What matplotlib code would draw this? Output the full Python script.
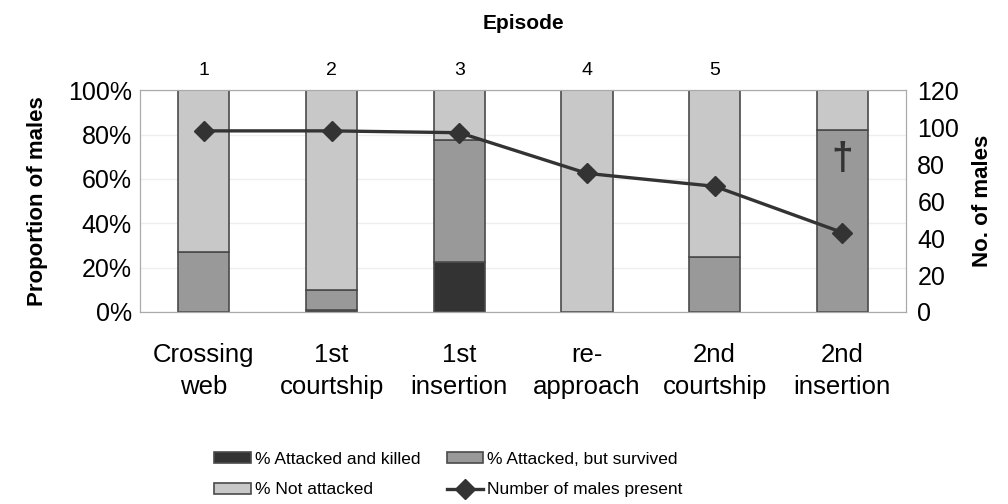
import matplotlib.pyplot as plt
import numpy as np

plt.rcParams['font.family'] = ['Liberation Sans', 'DejaVu Sans']

# Episode categories and stacked proportions (%)
categories = ['Crossing\nweb', '1st\ncourtship', '1st\ninsertion',
              're-\napproach', '2nd\ncourtship', '2nd\ninsertion']
episode_labels = ['1', '2', '3', '4', '5', '']
killed = [0, 1, 22.5, 0, 0, 0]
survived = [27, 9, 55, 0, 25, 82]
not_attacked = [73, 90, 22.5, 100, 75, 18]
males_present = [98, 98, 97, 75, 68, 43]

x = np.arange(len(categories))
width = 0.4
edge = '#4a4a4a'

fig, ax = plt.subplots(figsize=(10.08, 5.04), dpi=100)
fig.subplots_adjust(left=0.139, right=0.899, bottom=0.381, top=0.821)

b1 = ax.bar(x, killed, width, color='#333333', edgecolor=edge, linewidth=1.2,
            label='% Attacked and killed', zorder=2)
b2 = ax.bar(x, survived, width, bottom=killed, color='#999999', edgecolor=edge,
            linewidth=1.2, label='% Attacked, but survived', zorder=2)
base = np.array(killed) + np.array(survived)
b3 = ax.bar(x, not_attacked, width, bottom=base, color='#c8c8c8', edgecolor=edge,
            linewidth=1.2, label='% Not attacked', zorder=2)

ax.set_xlim(-0.5, len(categories) - 0.5)
ax.set_ylim(0, 100)
ax.set_yticks(range(0, 101, 20))
ax.set_yticklabels([f'{v}%' for v in range(0, 101, 20)], fontsize=18)
ax.set_xticks(x)
ax.set_xticklabels(categories, fontsize=18.5, linespacing=1.45)
ax.tick_params(axis='x', length=0, pad=22)
ax.tick_params(axis='y', length=0, pad=6)
ax.set_ylabel('Proportion of males', fontsize=16, fontweight='bold', labelpad=14)
ax.grid(axis='y', color='#eeeeee', linewidth=1, zorder=0)
for s in ax.spines.values():
    s.set_color('#aaaaaa')

# dagger on the last bar
ax.text(x[-1], 69, '\u2020', ha='center', va='center', fontsize=28,
        fontweight='bold', color='#333333', zorder=4)

# Right axis: number of males
ax2 = ax.twinx()
ln, = ax2.plot(x, males_present, color='#333333', linewidth=2.4, marker='D',
               markersize=10, label='Number of males present', zorder=5)
ax2.set_ylim(0, 120)
ax2.set_yticks(range(0, 121, 20))
ax2.tick_params(axis='y', labelsize=18, length=0, pad=8)
ax2.set_ylabel('No. of males', fontsize=16, fontweight='bold', labelpad=9)
for s in ax2.spines.values():
    s.set_color('#aaaaaa')

# Top axis: episode numbers
ax3 = ax.secondary_xaxis('top')
ax3.set_xticks(x)
ax3.set_xticklabels(episode_labels, fontsize=14)
ax3.tick_params(length=0, pad=8)
ax3.spines['top'].set_visible(False)
ax3.set_xlabel('Episode', fontsize=15, fontweight='bold', labelpad=24)

fig.legend(handles=[b1, b3, b2, ln], ncol=2, loc='lower left',
           bbox_to_anchor=(0.197, -0.018), frameon=False, fontsize=12.5,
           handlelength=2.1, handleheight=0.6, handletextpad=0.25,
           columnspacing=1.5, labelspacing=0.9)

fig.savefig('out.png', dpi=100)
